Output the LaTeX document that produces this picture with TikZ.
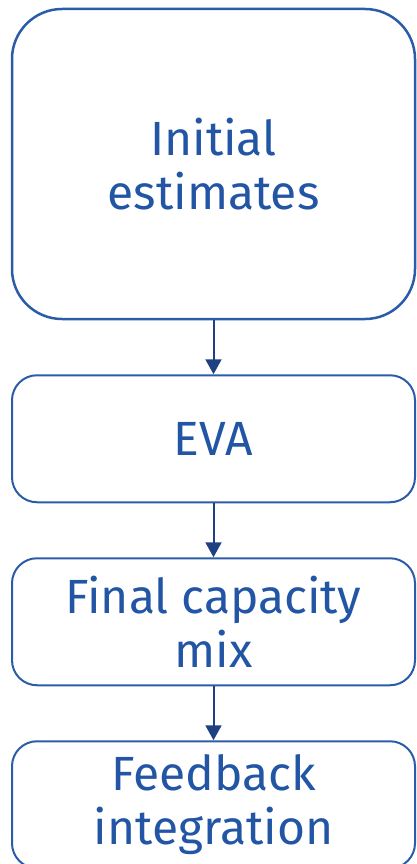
\documentclass[tikz,border=0pt]{standalone}
\usepackage{fontspec}
\setmainfont{Fira Sans}
\usepackage{xcolor}
\usepackage{tikz}
\usetikzlibrary{arrows.meta,positioning}

\definecolor{boxblue}{HTML}{2A5CA8}
\definecolor{textblue}{HTML}{2256A5}
\definecolor{arrowblue}{HTML}{1F4182}

\begin{document}
\begin{tikzpicture}[
    node distance=54pt,
    >={Triangle[width=16pt,length=15pt]},
    box/.style={draw=boxblue, line width=2pt, rounded corners=25pt, minimum width=403pt, minimum height=127pt, align=center, text=textblue, font=\fontsize{48}{54}\selectfont},
    arrow/.style={->, line width=2pt, draw=arrowblue, fill=arrowblue}
]
    \useasboundingbox (0,0) rectangle (416pt,-864pt);

    % Stages
    \node[box, line width=2.5pt, rounded corners=50pt, minimum height=310pt] (initial) at (213.5pt,-164pt) {Initial\\estimates};
    \node[box, below=of initial] (eva) {EVA};
    \node[box, below=of eva] (mix) {Final capacity\\mix};
    \node[box, below=of mix] (feedback) {Feedback\\integration};

    % Arrows
    \draw[arrow] (initial) -- (eva);
    \draw[arrow] (eva) -- (mix);
    \draw[arrow] (mix) -- (feedback);

\end{tikzpicture}
\end{document}
